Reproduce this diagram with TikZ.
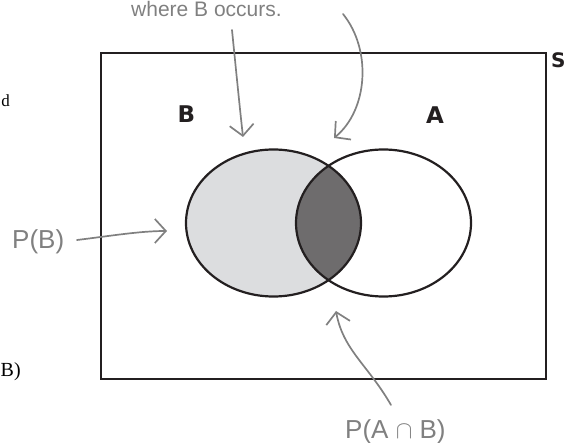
\documentclass[tikz,border=0pt]{standalone}
\usepackage{fontspec}
\setmainfont{Liberation Serif}
\setsansfont{Liberation Sans}
\newfontfamily\labelfont{DejaVu Sans}
\usetikzlibrary{arrows.meta,shapes.geometric}

\definecolor{pencil}{RGB}{128,128,128}
\definecolor{lightB}{RGB}{220,221,223}
\definecolor{darkAB}{RGB}{110,108,109}
\definecolor{ink}{RGB}{35,31,32}

\begin{document}
\begin{tikzpicture}[
    x=1pt, y=-1pt,
    every node/.style={inner sep=0pt},
    setshape/.style={draw=ink, ellipse, line width=2.2pt, minimum width=175pt, minimum height=147pt},
    setlabel/.style={text=ink, font=\labelfont\bfseries\fontsize{23}{23}\selectfont},
    note/.style={text=pencil, font=\sffamily\fontsize{26}{26}\selectfont},
    pointer/.style={draw=pencil, line width=1.7pt, line cap=round, -{Straight Barb[length=11pt,width=24pt]}}
]
\useasboundingbox (0,0) rectangle (565,443);

% sample space
\node[draw=ink, line width=2pt, minimum width=445pt, minimum height=326pt, anchor=north west] (space) at (100,52) {};
\node[setlabel, font=\labelfont\bfseries\fontsize{20}{20}\selectfont, anchor=north west] (S) at (551,52) {S};

% shading
\fill[lightB] (273.5,223) ellipse [x radius=87.5, y radius=73.5];
\begin{scope}
  \clip (273.5,223) ellipse [x radius=87.5, y radius=73.5];
  \fill[darkAB] (383.5,223) ellipse [x radius=87.5, y radius=73.5];
\end{scope}

% the two events
\node[setshape] (setB) at (273.5,223) {};
\node[setshape] (setA) at (383.5,223) {};
\node[setlabel] (labB) at (186.5,114.5) {B};
\node[setlabel] (labA) at (435,115.5) {A};

% cut-off text at the left
\node[anchor=base east, font=\fontsize{17}{17}\selectfont] (frag1) at (10,107) {d};
\node[anchor=base west, font=\fontsize{20}{20}\selectfont] (frag2) at (0.5,377) {B)};

% notes
\node[note, font=\sffamily\fontsize{21}{21}\selectfont, anchor=base west] (where) at (131,17) {where B occurs.};
\node[note, anchor=west] (pB) at (12,242) {P(B)};
\node[note, anchor=north west] (pAB) at (345,419) {P(A $\cap$ B)};

\coordinate (w1) at (232,30);
\coordinate (w2) at (343,14);
\coordinate (tB) at (77,240);
\coordinate (tAB) at (391,405);
\coordinate (hB) at (243,137);
\coordinate (hAB1) at (334,138);
\coordinate (hPB) at (167,231);
\coordinate (hAB2) at (336,311);

\draw[pointer] (w1) .. controls (236,70) and (240,110) .. (hB);
\draw[pointer] (w2) .. controls (372,50) and (368,110) .. (hAB1);
\draw[pointer] (tB) .. controls (110,236) and (140,231) .. (hPB);
\draw[pointer] (tAB) .. controls (368,365) and (343,350) .. (hAB2);
\end{tikzpicture}
\end{document}
